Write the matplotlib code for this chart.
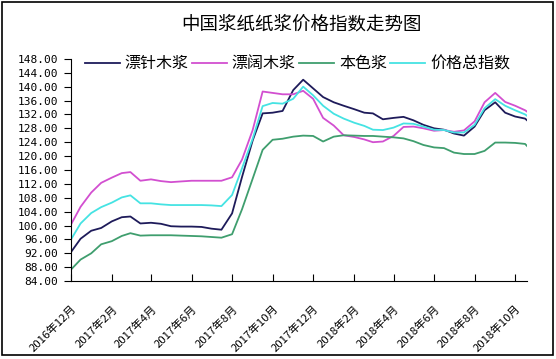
import pandas as pd
import matplotlib
matplotlib.use("Agg")
from matplotlib import pyplot as plt
from matplotlib.patches import Rectangle

plt.rcParams['font.family'] = ['Noto Sans CJK SC', 'DejaVu Sans']

# 半月取值
dates = pd.to_datetime([
    "2016-12-01", "2016-12-16", "2017-01-01", "2017-01-16", "2017-02-01", "2017-02-16",
    "2017-03-01", "2017-03-16", "2017-04-01", "2017-04-16", "2017-05-01", "2017-05-16",
    "2017-06-01", "2017-06-16", "2017-07-01", "2017-07-16", "2017-08-01", "2017-08-16",
    "2017-09-01", "2017-09-16", "2017-10-01", "2017-10-16", "2017-11-01", "2017-11-16",
    "2017-12-01", "2017-12-16", "2018-01-01", "2018-01-16", "2018-02-01", "2018-02-16",
    "2018-03-01", "2018-03-16", "2018-04-01", "2018-04-16", "2018-05-01", "2018-05-16",
    "2018-06-01", "2018-06-16", "2018-07-01", "2018-07-16", "2018-08-01", "2018-08-16",
    "2018-09-01", "2018-09-16", "2018-10-01", "2018-10-16", "2018-10-19",
])

softwood = [92.2, 96.2, 98.5, 99.3, 101.2, 102.4, 102.6, 100.6, 100.8, 100.5, 99.8, 99.7,
            99.7, 99.6, 99.1, 98.8, 103.5, 114.0, 124.5, 132.3, 132.5, 133.0, 139.0, 142.0,
            139.5, 137.0, 135.5, 134.5, 133.5, 132.5, 132.3, 130.6, 131.0, 131.3, 130.3, 129.0,
            128.0, 127.6, 126.5, 125.9, 128.5, 133.2, 135.5, 132.5, 131.4, 130.8, 130.3]
hardwood = [100.1, 105.4, 109.5, 112.3, 113.8, 115.1, 115.4, 112.9, 113.3, 112.8, 112.5, 112.7,
            112.9, 112.9, 112.9, 112.9, 113.9, 119.0, 127.5, 138.6, 138.2, 137.8, 137.8, 138.8,
            136.5, 131.0, 128.8, 126.0, 125.5, 124.8, 124.0, 124.2, 125.8, 128.4, 128.5, 128.0,
            127.3, 127.5, 127.0, 127.4, 130.0, 135.5, 138.2, 135.6, 134.5, 133.2, 132.8]
unbleached = [87.2, 90.2, 92.0, 94.6, 95.5, 97.0, 97.8, 97.1, 97.2, 97.2, 97.2, 97.1,
              97.0, 96.9, 96.7, 96.5, 97.5, 104.7, 113.5, 121.8, 124.7, 125.0, 125.6, 125.9,
              125.8, 124.2, 125.6, 126.0, 125.9, 125.8, 125.8, 125.6, 125.4, 125.1, 124.3, 123.2,
              122.5, 122.3, 121.0, 120.6, 120.6, 121.5, 123.9, 123.9, 123.8, 123.5, 122.9]
total = [95.8, 100.6, 103.6, 105.3, 106.6, 108.1, 108.7, 106.4, 106.4, 106.1, 105.9, 105.9,
         105.9, 105.9, 105.8, 105.6, 108.8, 116.5, 125.0, 134.4, 135.3, 135.1, 136.5, 140.0,
         137.5, 134.5, 132.2, 130.8, 129.6, 128.7, 127.6, 127.5, 128.2, 129.4, 129.3, 128.5,
         127.6, 127.5, 126.8, 126.8, 129.0, 133.8, 136.4, 134.5, 133.2, 132.0, 131.6]

series_names = ["漂针木浆", "漂阔木浆", "本色浆", "价格总指数"]
colors = ["#1e1b5a", "#d24fd0", "#3f9e6e", "#45e3e3"]

tick_dates = pd.date_range("2016-12-01", "2018-10-01", freq="2MS")
tick_labels = [f"{d.year}年{d.month}月" for d in tick_dates]
y_ticks = list(range(84, 149, 4))

fig = plt.figure(figsize=(5.56, 3.59), dpi=100)
ax = fig.add_axes([0.127, 0.217, 0.821, 0.619])

for vals, name, c in zip([softwood, hardwood, unbleached, total], series_names, colors):
    ax.plot(dates, vals, color=c, lw=1.3, label=name)

ax.set_xlim(pd.Timestamp("2016-12-01"), pd.Timestamp("2018-10-19"))
ax.set_ylim(84, 148)
ax.set_yticks(y_ticks)
ax.set_yticklabels([f"{v:.2f}" for v in y_ticks], family="DejaVu Sans Mono", fontsize=8)
ax.set_xticks(tick_dates)
ax.set_xticklabels(tick_labels, rotation=45, ha="right", rotation_mode="anchor", fontsize=8.2)
ax.tick_params(axis="y", direction="out", length=5, width=0.8, pad=4)
ax.tick_params(axis="x", direction="in", length=5, width=0.8, pad=16)
for s in ["top", "right"]:
    ax.spines[s].set_visible(False)

fig.text(0.543, 0.933, "中国浆纸纸浆价格指数走势图", ha="center", va="center", fontsize=13.3)
fig.legend(loc="center", bbox_to_anchor=(0.535, 0.822), ncol=4, frameon=False,
           fontsize=11.5, handlelength=2.2, handletextpad=0.3, columnspacing=0.2)

fig.patches.append(Rectangle((0.004, 0.01), 0.99, 0.984, transform=fig.transFigure,
                             fill=False, edgecolor="black", lw=1.2))

fig.savefig("out.png", dpi=100)
